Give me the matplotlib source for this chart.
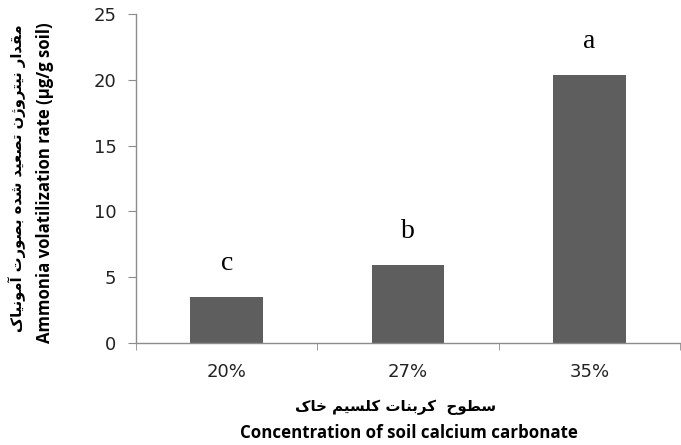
import matplotlib
matplotlib.use("Agg")
import matplotlib.pyplot as plt
from matplotlib.ticker import FixedLocator

# ---- data ----
categories = ["20%", "27%", "35%"]
values = [3.44, 5.88, 20.35]
letters = ["c", "b", "a"]
y_ticks = [0, 5, 10, 15, 20, 25]
ylabel_fa = "مقدار نیتروژن تصعید شده بصورت آمونیاک"
ylabel_en = "Ammonia volatilization rate (µg/g soil)"
xlabel_fa = "سطوح  کربنات کلسیم خاک"
xlabel_en = "Concentration of soil calcium carbonate"

# ---- minimal Arabic/Persian shaping (matplotlib has no complex text layout) ----
FORMS = {  # isolated, final, initial, medial
    "\u0627": ("\uFE8D", "\uFE8E", None, None),
    "\u0622": ("\uFE81", "\uFE82", None, None),
    "\u0628": ("\uFE8F", "\uFE90", "\uFE91", "\uFE92"),
    "\u062A": ("\uFE95", "\uFE96", "\uFE97", "\uFE98"),
    "\u062D": ("\uFEA1", "\uFEA2", "\uFEA3", "\uFEA4"),
    "\u062E": ("\uFEA5", "\uFEA6", "\uFEA7", "\uFEA8"),
    "\u062F": ("\uFEA9", "\uFEAA", None, None),
    "\u0631": ("\uFEAD", "\uFEAE", None, None),
    "\u0698": ("\uFB8A", "\uFB8B", None, None),
    "\u0633": ("\uFEB1", "\uFEB2", "\uFEB3", "\uFEB4"),
    "\u0634": ("\uFEB5", "\uFEB6", "\uFEB7", "\uFEB8"),
    "\u0635": ("\uFEB9", "\uFEBA", "\uFEBB", "\uFEBC"),
    "\u0637": ("\uFEC1", "\uFEC2", "\uFEC3", "\uFEC4"),
    "\u0639": ("\uFEC9", "\uFECA", "\uFECB", "\uFECC"),
    "\u0642": ("\uFED5", "\uFED6", "\uFED7", "\uFED8"),
    "\u0644": ("\uFEDD", "\uFEDE", "\uFEDF", "\uFEE0"),
    "\u0645": ("\uFEE1", "\uFEE2", "\uFEE3", "\uFEE4"),
    "\u0646": ("\uFEE5", "\uFEE6", "\uFEE7", "\uFEE8"),
    "\u0647": ("\uFEE9", "\uFEEA", "\uFEEB", "\uFEEC"),
    "\u0648": ("\uFEED", "\uFEEE", None, None),
    "\u06CC": ("\uFBFC", "\uFBFD", "\uFBFE", "\uFBFF"),
    "\u06A9": ("\uFB8E", "\uFB8F", "\uFB90", "\uFB91"),
}


def shape_rtl(s):
    out = []
    n = len(s)
    for i, ch in enumerate(s):
        if ch not in FORMS:
            out.append(ch)
            continue
        iso, fin, ini, med = FORMS[ch]
        prev = s[i - 1] if i > 0 else ""
        nxt = s[i + 1] if i < n - 1 else ""
        jp = prev in FORMS and FORMS[prev][2] is not None
        jn = ini is not None and nxt in FORMS
        if jp and jn:
            out.append(med)
        elif jp:
            out.append(fin)
        elif jn:
            out.append(ini)
        else:
            out.append(iso)
    return "".join(reversed(out))


# ---- figure ----
fig = plt.figure(figsize=(6.81, 4.45), dpi=100)
ax = fig.add_axes([136 / 681, 1 - 342.5 / 445, 544 / 681, (342.5 - 14.3) / 445])

x = list(range(len(categories)))
ax.bar(x, values, width=0.4, color="#5e5e5e", zorder=2)

for xi, v, lt in zip(x, values, letters):
    ax.annotate(lt, (xi, v), xytext=(0, 20), textcoords="offset points",
                ha="center", va="baseline", fontsize=20,
                family="Liberation Serif")

ax.set_xlim(-0.5, len(categories) - 0.5)
ax.set_ylim(0, 25)
ax.set_yticks(y_ticks)
ax.set_xticks(x)
ax.set_xticklabels(categories)
ax.xaxis.set_minor_locator(FixedLocator([i - 0.5 for i in range(len(categories) + 1)]))

spine_color = "#8c8c8c"
for s in ["top", "right"]:
    ax.spines[s].set_visible(False)
for s in ["left", "bottom"]:
    ax.spines[s].set_color(spine_color)
    ax.spines[s].set_linewidth(1.0)

ax.tick_params(axis="y", which="major", length=6, color=spine_color,
               labelsize=13, pad=8, labelcolor="#222222")
ax.tick_params(axis="x", which="major", length=0, labelsize=13, pad=15,
               labelcolor="#222222")
ax.tick_params(axis="x", which="minor", length=5, color=spine_color)

# y labels
fig.text(45 / 681, 1 - 183 / 445, ylabel_en, rotation=90, ha="center", va="center",
         fontsize=12.1, fontweight="bold", family="Open Sans")
fig.text(17 / 681, 1 - 178 / 445, shape_rtl(ylabel_fa), rotation=90, ha="center",
         va="center", fontsize=10.6, fontweight="bold", family=["DejaVu Sans"])

# x labels
fig.text(396 / 681, 1 - 407 / 445, shape_rtl(xlabel_fa), ha="center", va="center",
         fontsize=10.8, fontweight="bold", family=["DejaVu Sans"])
fig.text(409 / 681, 1 - 433 / 445, xlabel_en, ha="center", va="center",
         fontsize=12.2, fontweight="bold", family="Open Sans")

fig.savefig("out.png", dpi=100)
